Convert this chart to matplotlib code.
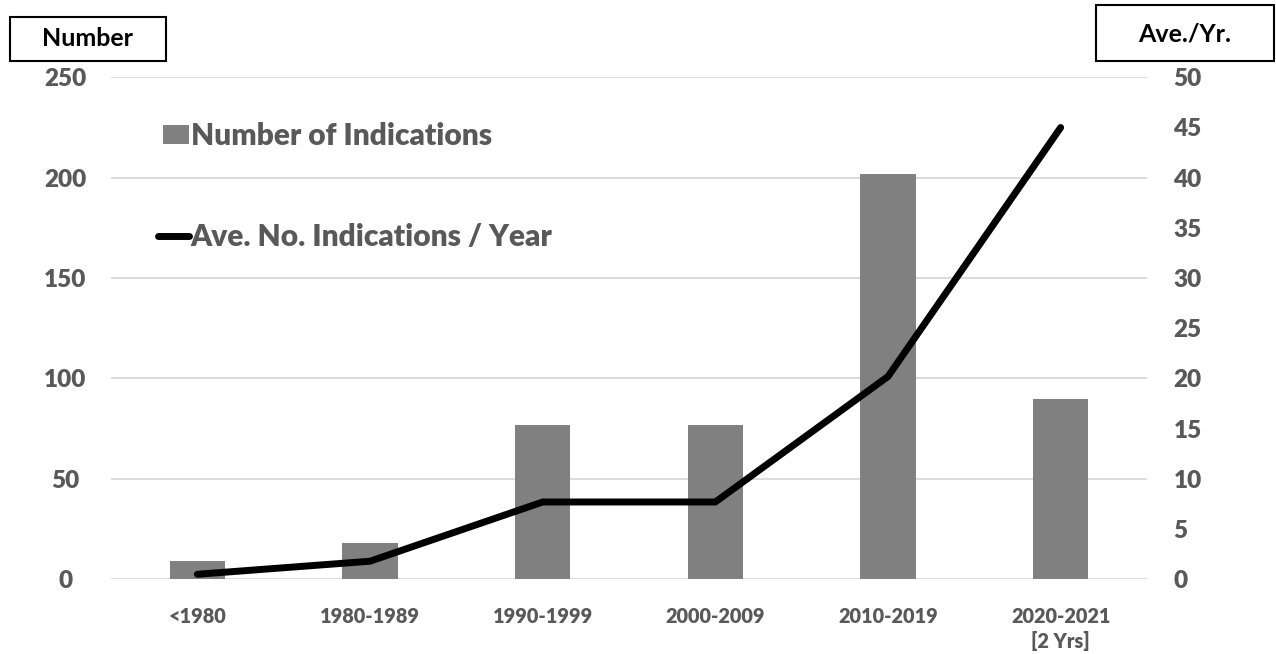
import matplotlib
matplotlib.use("Agg")
import matplotlib.pyplot as plt
from matplotlib.patches import Patch, Rectangle
from matplotlib.lines import Line2D
from matplotlib.legend_handler import HandlerPatch

categories = ["<1980", "1980-1989", "1990-1999", "2000-2009", "2010-2019", "2020-2021\n[2 Yrs]"]
num_indications = [9, 18, 77, 77, 202, 90]
ave_per_year = [0.5, 1.8, 7.7, 7.7, 20.2, 45]
left_ticks = [0, 50, 100, 150, 200, 250]
right_ticks = [0, 5, 10, 15, 20, 25, 30, 35, 40, 45, 50]

FONT = "Lato"
GRAY_TXT = "#595959"
BAR_C = "#808080"
GRID_C = "#d9d9d9"
WT = "heavy"

plt.rcParams["font.family"] = [FONT, "DejaVu Sans"]
plt.rcParams["font.weight"] = "bold"

W, H = 1276, 654
fig = plt.figure(figsize=(W / 100, H / 100), dpi=100)
ax = fig.add_axes([111 / W, 1 - 579.3 / H, (1147 - 111) / W, (579.3 - 77.3) / H])
x = list(range(len(categories)))

ax.bar(x, num_indications, width=0.32, color=BAR_C, zorder=2)
ax.set_xlim(-0.5, len(categories) - 0.5)
ax.set_ylim(0, 250)
ax.set_yticks(left_ticks)
ax.grid(axis="y", color=GRID_C, lw=1.3, zorder=0)
ax.set_axisbelow(True)
for s in ax.spines.values():
    s.set_visible(False)
ax.set_xticks(x)
ax.set_xticklabels(categories, fontsize=14.3, color=GRAY_TXT, fontweight=WT, linespacing=1.3)
ax.tick_params(axis="x", length=0, pad=20)
ax.tick_params(axis="y", length=0, pad=33, labelsize=17.5, labelcolor=GRAY_TXT)
for lab in ax.get_yticklabels():
    lab.set_ha("center")
    lab.set_fontweight(WT)

ax2 = ax.twinx()
ax2.set_ylim(0, 50)
ax2.set_yticks(right_ticks)
for s in ax2.spines.values():
    s.set_visible(False)
ax2.tick_params(axis="y", length=0, pad=19, labelsize=17.5, labelcolor=GRAY_TXT)
for lab in ax2.get_yticklabels():
    lab.set_fontweight(WT)
ax2.plot(x, ave_per_year, color="black", lw=5, solid_capstyle="round", solid_joinstyle="miter", zorder=3)


def square_patch(legend, orig_handle, xdescent, ydescent, width, height, fontsize):
    w = 19
    return Rectangle((-xdescent + width - w, -ydescent), w, height)


handles = [Patch(facecolor=BAR_C, edgecolor="none"),
           Line2D([0], [0], color="black", lw=5, solid_capstyle="round")]
labels = ["Number of Indications", "Ave. No. Indications / Year"]
leg = fig.legend(handles, labels, loc="upper left", bbox_to_anchor=(158 / W, 1 - 122 / H),
                 frameon=False, prop={"family": FONT, "weight": WT, "size": 21.5},
                 labelcolor=GRAY_TXT, handlelength=1.05, handleheight=0.6,
                 handletextpad=0.05, labelspacing=2.45, borderaxespad=0, borderpad=0,
                 handler_map={Patch: HandlerPatch(patch_func=square_patch)})

# axis title boxes
fig.add_artist(Rectangle((10 / W, 1 - 61 / H), 156 / W, 44 / H, transform=fig.transFigure,
                         fill=False, ec="black", lw=1.5))
fig.text(88 / W, 1 - 39 / H, "Number", ha="center", va="center", fontsize=18,
         fontweight="bold", color="black")
fig.add_artist(Rectangle((1096 / W, 1 - 61 / H), 178 / W, 56 / H, transform=fig.transFigure,
                         fill=False, ec="black", lw=1.5))
fig.text(1185 / W, 1 - 33.5 / H, "Ave./Yr.", ha="center", va="center", fontsize=18,
         fontweight="bold", color="black")

fig.savefig("out.png", dpi=100)
